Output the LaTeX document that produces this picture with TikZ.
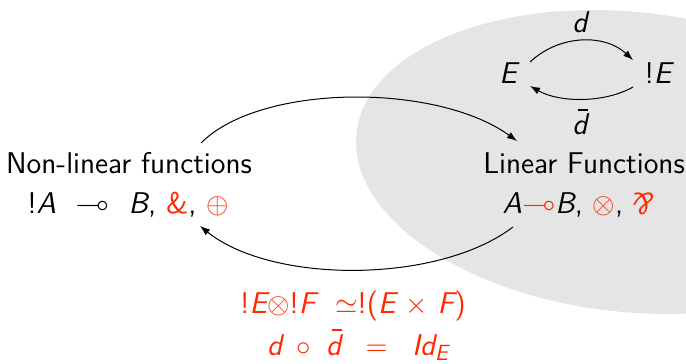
\documentclass[tikz,border=0pt]{standalone}
\usepackage{amssymb}
\usepackage{graphicx}
\usetikzlibrary{arrows.meta,calc}
\definecolor{myred}{RGB}{255,40,0}
\definecolor{mygray}{RGB}{229,229,229}
\newcommand{\si}[1]{{\sffamily\itshape #1}}
\newcommand{\myparr}{\rotatebox[origin=c]{180}{\itshape\&}}
\newcommand{\dbar}{\makebox[0pt][l]{\hspace{0.2em}\rule[0.8em]{0.32em}{0.06em}}\si{d}}
\tikzset{
  lbl/.style={font=\sffamily\fontsize{15}{17}\selectfont, inner sep=1pt, anchor=center},
  arr/.style={draw, line width=0.5pt, -{Latex[length=5pt,width=3.6pt]}}
}
\begin{document}
\begin{tikzpicture}[x=0.5pt,y=-0.5pt]
\useasboundingbox (0,0) rectangle (686,364);
\clip (0,0) rectangle (686,364);
\fill[mygray, rotate around={-6:(630,162)}] (630,162) ellipse [x radius=275, y radius=150];

\node[lbl] (nlt) at (129,163) {Non-linear functions};
\node[lbl] (nlf) at (128,205) {!\si{A}\ \ $\multimap$\ \ \si{B}, \textcolor{myred}{\&}, \textcolor{myred}{$\oplus$}};
\node[lbl] (lt) at (584,163) {Linear Functions};
\node[lbl] (lf) at (579,205) {\si{A}\textcolor{myred}{$\multimap$}\si{B}, \textcolor{myred}{$\otimes$}, \textcolor{myred}{\myparr}};

\node[lbl] (E) at (508,73) {\si{E}};
\node[lbl] (bE) at (658,73) {!\si{E}};
\node[lbl] (d) at (580,22) {\si{d}};
\node[lbl] (db) at (580,122) {\dbar};

\node[lbl, text=myred] (eq1) at (353,306) {!\si{E}$\otimes$!\si{F}\ \ $\simeq$!(\si{E}\ $\times$\ \si{F})};
\node[lbl, text=myred] (eq2) at (358,345) {\si{d}\ \,$\circ$\ \,\dbar\ \ \,$=$\ \ \,\si{Id}$_{\mbox{\fontsize{11}{12}\selectfont\si{E}}}$};

\draw[arr] ($(nlt)+(72,-20)$) .. controls +(60,-60) and +(-80,-58) .. ($(lt)+(-67,-22)$);
\draw[arr] ($(lf)+(-66,22)$) .. controls +(-75,57) and +(72,58) .. ($(nlf)+(72,21)$);
\draw[arr] ($(E)+(22,-11)$) .. controls +(30,-28) and +(-28,-26) .. ($(bE)+(-25,-13)$);
\draw[arr] ($(bE)+(-25,14)$) .. controls +(-28,16) and +(30,17) .. ($(E)+(22,13)$);
\end{tikzpicture}
\end{document}
